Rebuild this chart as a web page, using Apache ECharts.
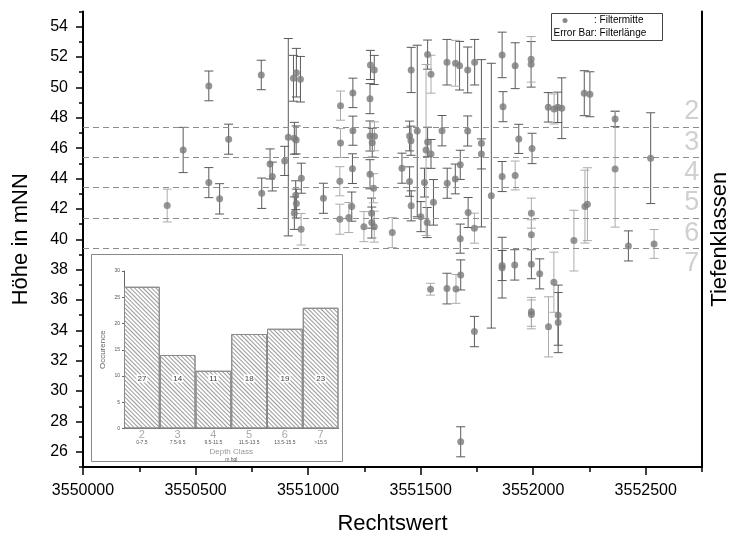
<!DOCTYPE html>
<html>
<head>
<meta charset="utf-8">
<script src="https://cdn.jsdelivr.net/npm/echarts@6/dist/echarts.min.js"></script>
<style>
html, body { margin: 0; padding: 0; background: #fff; }
#box1 { width: 730px; height: 533px; }
</style>
</head>
<body>
<div id="box1"></div>
<script>
var chart = echarts.init(document.getElementById('box1'));

// filter middle points: [Rechtswert, Höhe, half filter length]
// error bar drawn dark
var darkPts = [
  [3550445, 45.88, 1.49], [3550559, 50.10, 0.98], [3550559, 43.73, 0.99], [3550607, 42.66, 1.00],
  [3550647, 46.59, 0.99], [3550792, 50.82, 0.97], [3550794, 43.03, 1.00], [3550831, 44.96, 0.99],
  [3550841, 44.13, 0.95], [3550896, 45.16, 0.96], [3550912, 46.72, 6.50], [3550935, 50.60, 1.51],
  [3550948, 50.97, 1.60], [3550966, 50.54, 1.50], [3550939, 46.65, 1.05], [3550947, 46.54, 0.92],
  [3550970, 44.02, 0.99], [3550945, 42.90, 0.95], [3550948, 42.35, 0.95], [3550939, 41.72, 1.07],
  [3551068, 42.70, 0.99], [3551199, 49.64, 0.97], [3551199, 47.15, 0.96], [3551197, 44.65, 0.98],
  [3551194, 42.15, 0.96], [3551277, 51.48, 0.96], [3551294, 51.15, 0.96], [3551275, 49.26, 0.99],
  [3551275, 46.80, 0.99], [3551285, 46.36, 0.95], [3551275, 44.28, 0.96], [3551282, 41.72, 0.99],
  [3551283, 41.10, 1.02], [3551458, 51.15, 1.49], [3551485, 47.13, 5.65], [3551531, 52.16, 0.96],
  [3551451, 46.80, 0.98], [3551457, 46.49, 0.96], [3551417, 44.68, 0.99], [3551451, 43.80, 0.97],
  [3551458, 42.20, 0.99], [3551501, 41.49, 0.99], [3551531, 46.41, 0.97], [3551546, 45.62, 0.95],
  [3551517, 43.73, 0.95], [3551529, 41.10, 0.99], [3551557, 42.43, 1.50], [3551595, 47.15, 1.00],
  [3551617, 51.66, 1.50], [3551673, 51.43, 1.60], [3551709, 51.15, 1.51], [3551740, 51.66, 1.50],
  [3551618, 43.69, 0.99], [3551654, 43.97, 0.98], [3551676, 44.90, 0.96], [3551709, 47.13, 0.99],
  [3551711, 41.76, 0.99], [3551676, 40.04, 0.96], [3551770, 46.32, 5.51], [3551770, 45.62, 0.99],
  [3551814, 42.87, 8.72], [3551862, 52.14, 1.50], [3551866, 48.73, 0.99], [3551862, 44.13, 0.99],
  [3551920, 51.43, 1.51], [3551936, 46.61, 0.96], [3551991, 51.52, 1.50], [3551995, 45.98, 1.00],
  [3552067, 48.69, 0.97], [3552109, 48.69, 1.00], [3552127, 48.63, 2.00], [3552227, 49.62, 1.48],
  [3552252, 49.55, 1.48], [3552364, 47.92, 0.50], [3552423, 39.56, 0.99], [3552522, 45.34, 2.99],
  [3551617, 36.75, 1.01], [3551678, 37.65, 0.99], [3551678, 26.66, 0.99], [3551739, 33.92, 1.00],
  [3551862, 38.27, 0.99], [3551862, 38.13, 2.00], [3551918, 38.31, 1.00], [3551992, 38.36, 0.96],
  [3552029, 37.72, 0.99], [3552111, 35.00, 1.98], [3552111, 34.51, 1.98]
];
// error bar drawn light
var lightPts = [
  [3550374, 42.22, 1.08], [3550969, 40.66, 1.04], [3551144, 48.80, 0.96], [3551144, 46.34, 0.95],
  [3551141, 43.82, 0.96], [3551141, 41.32, 0.99], [3551181, 41.43, 0.99], [3551248, 40.83, 0.99],
  [3551295, 46.78, 0.95], [3551291, 43.36, 0.96], [3551294, 40.83, 1.02], [3551374, 40.44, 0.99],
  [3551546, 50.87, 1.25], [3551524, 45.88, 5.63], [3551655, 51.59, 1.51], [3551739, 40.73, 0.99],
  [3551920, 44.20, 0.95], [3551991, 51.85, 1.50], [3551992, 41.72, 0.99], [3551992, 40.29, 0.99],
  [3552093, 48.58, 0.99], [3552181, 39.91, 2.00], [3552230, 42.15, 2.40], [3552241, 42.31, 2.40],
  [3552364, 44.63, 3.83], [3552537, 39.69, 0.95], [3551544, 36.71, 0.39], [3551657, 36.73, 0.95],
  [3551992, 35.22, 0.95], [3551992, 35.05, 0.95], [3552068, 34.23, 1.98], [3552092, 37.17, 1.98]
];

// Tiefenklassen
var classBounds = [47.4, 45.4, 43.4, 41.4, 39.4];
var classNames = ['2', '3', '4', '5', '6', '7'];
var classCenters = [48.4, 46.4, 44.4, 42.4, 40.4, 38.4];
var classLabelX = 3552738;

// ticks
var xMajor = [3550000, 3550500, 3551000, 3551500, 3552000, 3552500];
var xMinor = [3550250, 3550750, 3551250, 3551750, 3552250, 3552750];
var yMajor = [26, 28, 30, 32, 34, 36, 38, 40, 42, 44, 46, 48, 50, 52, 54];
var yMinor = [25, 27, 29, 31, 33, 35, 37, 39, 41, 43, 45, 47, 49, 51, 53, 55];

// inset histogram
var depthClass = ['2', '3', '4', '5', '6', '7'];
var depthRange = ['0-7.5', '7.5-9.5', '9.5-11.5', '11.5-13.5', '13.5-15.5', '>15.5'];
var occurence = [27, 14, 11, 18, 19, 23];

var font = '"Liberation Sans", Arial, sans-serif';

function errorBar(color) {
  return function(params, api) {
    var x = api.value(0), y = api.value(1), e = api.value(2);
    var top = api.coord([x, y + e]);
    var bot = api.coord([x, y - e]);
    var w = 4.5;
    var st = { stroke: color, lineWidth: 1 };
    return {
      type: 'group',
      children: [
        { type: 'line', shape: { x1: top[0], y1: top[1], x2: bot[0], y2: bot[1] }, style: st },
        { type: 'line', shape: { x1: top[0] - w, y1: top[1], x2: top[0] + w, y2: top[1] }, style: st },
        { type: 'line', shape: { x1: bot[0] - w, y1: bot[1], x2: bot[0] + w, y2: bot[1] }, style: st }
      ]
    };
  };
}

var blackLine = { color: '#000', width: 2 };

chart.setOption({
  animation: false,
  textStyle: { fontFamily: font },
  grid: [
    { left: 83, right: 28, top: 11.5, bottom: 66, outerBoundsMode: 'none' },
    { left: 124, top: 271, width: 214.5, height: 157.5, outerBoundsMode: 'none' }
  ],
  graphic: [
    { type: 'rect', z: -10, shape: { x: 91.5, y: 254.5, width: 251, height: 207 },
      style: { fill: '#fff', stroke: '#888', lineWidth: 1 } },
    { type: 'rect', z: 10, shape: { x: 551.5, y: 13.5, width: 111, height: 27 },
      style: { fill: '#fff', stroke: '#444', lineWidth: 1 } },
    { type: 'circle', z: 11, shape: { cx: 565, cy: 20.5, r: 2.5 }, style: { fill: '#888' } },
    { type: 'text', z: 11, x: 594, y: 15.5, style: { text: ': Filtermitte', font: '10px ' + font, fill: '#000' } },
    { type: 'text', z: 11, x: 553.5, y: 28.5, style: { text: 'Error Bar: Filterlänge', font: '10px ' + font, fill: '#000' } }
  ],
  xAxis: [
    {
      gridIndex: 0, type: 'value', min: 3550000, max: 3552750, interval: 250,
      position: 'bottom',
      name: 'Rechtswert', nameLocation: 'middle', nameGap: 46,
      nameTextStyle: { fontSize: 22, color: '#000' },
      axisLine: { lineStyle: blackLine },
      axisTick: { customValues: xMajor, length: 8, lineStyle: { color: '#000', width: 1.5 } },
      axisLabel: { customValues: xMajor, fontSize: 16, color: '#000', margin: 16,
        formatter: function(v) { return String(v); } },
      splitLine: { show: false }
    },
    {
      gridIndex: 0, type: 'value', min: 3550000, max: 3552750, interval: 250,
      position: 'bottom',
      axisLine: { show: false },
      axisTick: { customValues: xMinor, length: 5, lineStyle: { color: '#000', width: 1.5 } },
      axisLabel: { show: false },
      splitLine: { show: false }
    },
    {
      gridIndex: 1, type: 'category', data: depthClass,
      name: '{a|Depth Class}\n{b|m bgl}', nameLocation: 'middle', nameGap: 19,
      nameTextStyle: { rich: {
        a: { fontSize: 8, color: '#999', lineHeight: 9 },
        b: { fontSize: 5, color: '#555', lineHeight: 7 }
      } },
      axisLine: { lineStyle: { color: '#666', width: 1 } },
      axisTick: { show: false },
      axisLabel: {
        margin: 1, interval: 0,
        formatter: function(v, i) { return '{a|' + v + '}\n{b|' + depthRange[i] + '}'; },
        rich: {
          a: { fontSize: 11, color: '#aaa', lineHeight: 10 },
          b: { fontSize: 5, color: '#555', lineHeight: 7 }
        }
      }
    }
  ],
  yAxis: [
    {
      gridIndex: 0, type: 'value', min: 25, max: 55, interval: 1, position: 'left',
      name: 'Höhe in mNN', nameLocation: 'middle', nameGap: 51,
      nameTextStyle: { fontSize: 22, color: '#000' },
      axisLine: { show: true, lineStyle: blackLine },
      axisTick: { customValues: yMajor, length: 7, lineStyle: { color: '#000', width: 1.5 } },
      axisLabel: { customValues: yMajor, fontSize: 16, color: '#000', margin: 15 },
      splitLine: { show: false }
    },
    {
      gridIndex: 0, type: 'value', min: 25, max: 55, interval: 1, position: 'left',
      axisLine: { show: false },
      axisTick: { customValues: yMinor, length: 4, lineStyle: { color: '#000', width: 1.5 } },
      axisLabel: { show: false },
      splitLine: { show: false }
    },
    {
      gridIndex: 0, type: 'value', min: 25, max: 55, position: 'right',
      name: 'Tiefenklassen', nameLocation: 'middle', nameGap: 7, nameRotate: 90,
      nameTextStyle: { fontSize: 22, color: '#000' },
      axisLine: { show: true, lineStyle: blackLine },
      axisTick: { show: false },
      axisLabel: { show: false },
      splitLine: { show: false }
    },
    {
      gridIndex: 1, type: 'value', min: 0, max: 30, interval: 5,
      name: 'Occurence', nameLocation: 'middle', nameGap: 17,
      nameTextStyle: { fontSize: 8, color: '#666' },
      axisLine: { show: true, lineStyle: { color: '#666', width: 1 } },
      axisTick: { show: true, length: 2, lineStyle: { color: '#666' } },
      axisLabel: { fontSize: 5, color: '#555', margin: 4 },
      splitLine: { show: false }
    }
  ],
  series: [
    {
      type: 'custom', xAxisIndex: 0, yAxisIndex: 0, z: 2,
      renderItem: errorBar('#5a5a5a'),
      encode: { x: 0, y: 1 },
      data: darkPts,
      markLine: {
        silent: true, symbol: 'none', label: { show: false },
        lineStyle: { color: '#8c8c8c', type: [6, 4], width: 1 },
        data: classBounds.map(function(v) { return { yAxis: v }; })
      }
    },
    {
      type: 'custom', xAxisIndex: 0, yAxisIndex: 0, z: 2,
      renderItem: errorBar('#ababab'),
      encode: { x: 0, y: 1 },
      data: lightPts
    },
    {
      type: 'scatter', xAxisIndex: 0, yAxisIndex: 0, z: 3,
      symbol: 'circle', symbolSize: 7,
      itemStyle: { color: '#7b7b7b' },
      data: darkPts.concat(lightPts).map(function(p) { return [p[0], p[1]]; })
    },
    {
      type: 'scatter', xAxisIndex: 0, yAxisIndex: 0, z: 3,
      symbolSize: 0,
      label: {
        show: true, position: 'inside', align: 'right', fontSize: 27, color: '#c4c4c4',
        formatter: function(p) { return classNames[p.dataIndex]; }
      },
      data: classCenters.map(function(v) { return [classLabelX, v]; })
    },
    {
      type: 'bar', xAxisIndex: 2, yAxisIndex: 3, z: 2,
      barCategoryGap: '0%',
      data: occurence,
      itemStyle: {
        color: '#fff', borderColor: '#8a8a8a', borderWidth: 1,
        decal: { symbol: 'rect', symbolSize: 1, dashArrayX: [1, 0], dashArrayY: [1, 2],
          rotation: Math.PI / 4, color: '#9a9a9a' }
      },
      label: {
        show: true, position: 'insideBottom', distance: 46,
        fontSize: 8, color: '#444', backgroundColor: '#fff', padding: [0, 1]
      }
    }
  ]
});
</script>
</body>
</html>
